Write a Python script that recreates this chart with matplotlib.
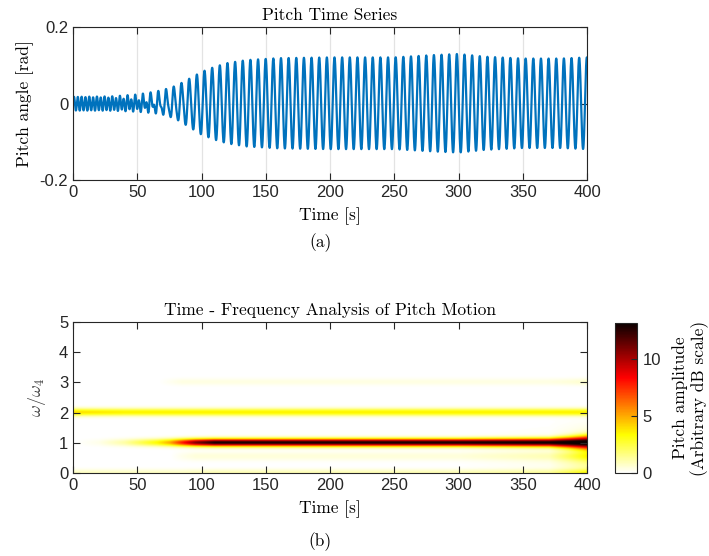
import numpy as np
import matplotlib
matplotlib.use("Agg")
from matplotlib import pyplot as plt

# --- pitch time series ---
period_main = 5.95    # s, response at omega_4
period_fast = 2.975   # s, response at 2*omega_4
t_env = [0, 30, 50, 60, 70, 80, 90, 100, 110, 120, 135, 160, 200, 250, 280, 300, 320, 350, 380, 400]
amp_main = [0.0, 0.002, 0.008, 0.016, 0.028, 0.042, 0.062, 0.082, 0.095, 0.105, 0.113, 0.118, 0.12,
            0.12, 0.126, 0.129, 0.122, 0.117, 0.117, 0.12]
t_fast = [0, 50, 60, 70, 85, 100, 400]
amp_fast = [0.018, 0.017, 0.015, 0.01, 0.005, 0.002, 0.002]

# --- spectrogram bands (omega/omega_4 centre, amplitude in dB over time) ---
t_spec = [0, 20, 40, 55, 65, 75, 85, 95, 110, 200, 300, 370, 385, 400]
band1 = [0.0, 0.3, 1.2, 2.5, 3.4, 5.0, 8.0, 10.8, 13.0, 13.0, 13.0, 13.0, 13.0, 13.0]
band1_width = [0.12, 0.12, 0.12, 0.12, 0.12, 0.12, 0.12, 0.12, 0.12, 0.12, 0.12, 0.13, 0.16, 0.2]
band2 = [4.0, 3.8, 3.6, 3.6, 3.6, 3.6, 3.6, 3.6, 3.6, 3.6, 3.6, 3.6, 3.6, 3.6]
band3 = [0.0, 0.0, 0.0, 0.0, 0.0, 0.2, 0.4, 0.4, 0.4, 0.4, 0.4, 0.4, 0.5, 0.7]
band0 = [0.8, 0.8, 0.8, 0.8, 0.8, 0.8, 0.8, 0.9, 1.0, 1.0, 1.0, 1.2, 1.8, 2.5]
band_half = [0.0, 0.0, 0.0, 0.0, 0.0, 0.0, 0.3, 0.5, 0.5, 0.5, 0.5, 0.7, 1.2, 1.8]
band_broad = [0.0, 0.0, 0.0, 0.0, 0.0, 0.0, 0.0, 0.0, 0.0, 0.0, 0.0, 0.3, 1.0, 1.8]

vmax = 13.2
matlab_blue = "#0072BD"
serif = "cmr10"
sans = "Liberation Sans"

plt.rcParams["font.family"] = sans
plt.rcParams["font.size"] = 12
plt.rcParams["mathtext.fontset"] = "cm"
plt.rcParams["axes.linewidth"] = 0.8
plt.rcParams["axes.edgecolor"] = "#262626"

fig = plt.figure(figsize=(7.09, 5.56), dpi=100)

# Top: time series
ax1 = fig.add_axes([0.103, 0.676, 0.725, 0.275])
t = np.linspace(0, 400, 8001)
pitch = (np.interp(t, t_env, amp_main) * np.sin(2 * np.pi * t / period_main + 0.3)
         + np.interp(t, t_fast, amp_fast) * np.sin(2 * np.pi * t / period_fast))
ax1.plot(t, pitch, color=matlab_blue, lw=1.6)
ax1.set_xlim(0, 400)
ax1.set_ylim(-0.2, 0.2)
ax1.set_xticks(np.arange(0, 401, 50))
ax1.set_yticks([-0.2, 0, 0.2])
ax1.set_yticklabels(["-0.2", "0", "0.2"])
ax1.grid(True, color="#e3e3e3", lw=0.9)
ax1.set_axisbelow(True)
ax1.tick_params(direction="in", top=True, right=True, length=5, colors="#262626", labelsize=12)
ax1.set_title("Pitch Time Series", family=serif, fontsize=12.5, pad=5)
ax1.set_xlabel("Time [s]", family=serif, fontsize=12.5, labelpad=5)
ax1.set_ylabel("Pitch angle [rad]", family=serif, fontsize=12.5, labelpad=4)
fig.text(0.452, 0.555, "(a)", family=serif, fontsize=12.5, ha="center")

# Bottom: time-frequency map
ax2 = fig.add_axes([0.103, 0.149, 0.725, 0.272])
ts = np.linspace(0, 400, 801)
fs = np.linspace(0, 5, 501)
T, F = np.meshgrid(ts, fs)

def gauss(centre, width):
    return np.exp(-((F - centre) / width) ** 2)

Z = (np.interp(T, t_spec, band1) * np.exp(-((F - 1.0) / np.interp(T, t_spec, band1_width)) ** 2)
     + np.interp(T, t_spec, band2) * gauss(2.0, 0.12)
     + np.interp(T, t_spec, band3) * gauss(3.0, 0.12)
     + np.interp(T, t_spec, band0) * gauss(0.0, 0.12)
     + np.interp(T, t_spec, band_half) * gauss(0.55, 0.15)
     + np.interp(T, t_spec, band_broad) * gauss(0.6, 0.7))
im = ax2.imshow(Z, origin="lower", extent=[0, 400, 0, 5], aspect="auto", cmap="hot_r",
                vmin=0, vmax=vmax, interpolation="bilinear")
ax2.set_xlim(0, 400)
ax2.set_ylim(0, 5)
ax2.set_xticks(np.arange(0, 401, 50))
ax2.set_yticks(np.arange(0, 6))
ax2.tick_params(direction="in", top=True, right=True, length=5, colors="#262626", labelsize=12)
ax2.set_title("Time - Frequency Analysis of Pitch Motion", family=serif, fontsize=12.5, pad=5)
ax2.set_xlabel("Time [s]", family=serif, fontsize=12.5, labelpad=5)
ax2.set_ylabel(r"$\omega/\omega_4$", fontsize=13, labelpad=8, color="#404040")
fig.text(0.452, 0.017, "(b)", family=serif, fontsize=12.5, ha="center")

cax = fig.add_axes([0.867, 0.149, 0.032, 0.270])
cb = fig.colorbar(im, cax=cax, ticks=[0, 5, 10])
cb.outline.set_linewidth(0.8)
cax.tick_params(direction="in", length=4, labelsize=12, colors="#262626")
cb.set_label("Pitch amplitude\n(Arbitrary dB scale)", family=serif, fontsize=12.5, labelpad=8)

fig.savefig("out.png", dpi=100)
